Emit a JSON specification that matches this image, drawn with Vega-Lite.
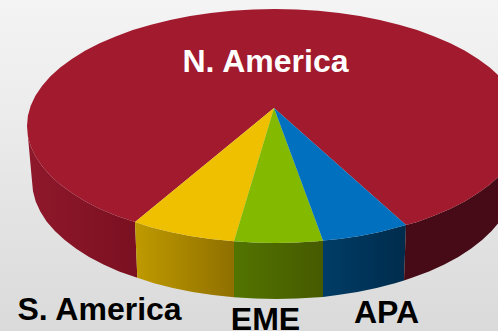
{
  "$schema": "https://vega.github.io/schema/vega-lite/v6.json",
  "autosize": {"type": "none"},
  "width": 498,
  "height": 331,
  "padding": 0,
  "background": "#ffffff",
  "config": {"view": {"stroke": null}},
  "datasets": {
    "backdrop": [{"x": 0, "x2": 498, "y": 0, "y2": 331}],
    "wallNorthAmericaLeft": [
      {"n":1,"x":27,"y":126},{"n":2,"x":27.9,"y":136.2},{"n":3,"x":30.7,"y":146.3},{"n":4,"x":35.4,"y":156.3},{"n":5,"x":42,"y":166},{"n":6,"x":50.2,"y":175.4},{"n":7,"x":60.2,"y":184.5},{"n":8,"x":71.9,"y":193.1},{"n":9,"x":85,"y":201.2},{"n":10,"x":99.6,"y":208.7},{"n":11,"x":115.6,"y":215.6},{"n":12,"x":135,"y":222},
      {"n":13,"x":137.3,"y":277.7},{"n":14,"x":119.1,"y":271.4},{"n":15,"x":103.5,"y":264.4},{"n":16,"x":89.1,"y":256.9},{"n":17,"x":76.2,"y":248.7},{"n":18,"x":64.7,"y":240},{"n":19,"x":54.9,"y":230.9},{"n":20,"x":46.6,"y":221.4},{"n":21,"x":40.3,"y":211.6},{"n":22,"x":35.7,"y":201.5},{"n":23,"x":33,"y":191.3},{"n":24,"x":32,"y":181}
    ],
    "wallSouthAmerica": [
      {"n":1,"x":135,"y":222},{"n":2,"x":151,"y":227.3},{"n":3,"x":170.2,"y":232},{"n":4,"x":190.2,"y":236},{"n":5,"x":210.8,"y":239},{"n":6,"x":234,"y":241.3},
      {"n":7,"x":234,"y":297.3},{"n":8,"x":212.8,"y":295},{"n":9,"x":192.6,"y":291.9},{"n":10,"x":172.8,"y":288},{"n":11,"x":154,"y":283.2},{"n":12,"x":137.3,"y":277.7}
    ],
    "wallEME": [
      {"n":1,"x":234,"y":241.3},{"n":2,"x":253.4,"y":242.6},{"n":3,"x":275,"y":243},{"n":4,"x":296.6,"y":242.6},{"n":5,"x":318,"y":241.2},{"n":6,"x":323,"y":240.5},
      {"n":7,"x":323,"y":297},{"n":8,"x":297,"y":298.5},{"n":9,"x":276,"y":299},{"n":10,"x":255,"y":298.5},{"n":11,"x":234,"y":297.3}
    ],
    "wallAPA": [
      {"n":1,"x":323,"y":240.5},{"n":2,"x":339.2,"y":239},{"n":3,"x":359.8,"y":236},{"n":4,"x":379.8,"y":232},{"n":5,"x":406,"y":225},
      {"n":6,"x":404,"y":280.5},{"n":7,"x":395,"y":283.2},{"n":8,"x":376.6,"y":288},{"n":9,"x":357.4,"y":291.9},{"n":10,"x":337.6,"y":295},{"n":11,"x":323,"y":297}
    ],
    "wallNorthAmericaRight": [
      {"n":1,"x":406,"y":225},{"n":2,"x":417.2,"y":221.9},{"n":3,"x":434.4,"y":215.6},{"n":4,"x":450.4,"y":208.7},{"n":5,"x":465,"y":201.2},{"n":6,"x":478.1,"y":193.1},{"n":7,"x":489.8,"y":184.5},{"n":8,"x":498,"y":177},
      {"n":9,"x":498,"y":223.5},{"n":10,"x":491.6,"y":230.9},{"n":11,"x":482.1,"y":240},{"n":12,"x":470.9,"y":248.7},{"n":13,"x":458.3,"y":256.9},{"n":14,"x":444.3,"y":264.4},{"n":15,"x":429,"y":271.4},{"n":16,"x":412.6,"y":277.6},{"n":17,"x":404,"y":280.5}
    ],
    "topNorthAmerica": [
      {"n":1,"x":274,"y":108},{"n":2,"x":406,"y":225},{"n":3,"x":417.2,"y":221.9},{"n":4,"x":434.4,"y":215.6},{"n":5,"x":450.4,"y":208.7},{"n":6,"x":465,"y":201.2},{"n":7,"x":478.1,"y":193.1},{"n":8,"x":489.8,"y":184.5},{"n":9,"x":498,"y":177},
      {"n":10,"x":498,"y":75},{"n":11,"x":489.8,"y":67.5},{"n":12,"x":478.1,"y":58.9},{"n":13,"x":465,"y":50.8},{"n":14,"x":450.4,"y":43.3},{"n":15,"x":434.4,"y":36.4},{"n":16,"x":417.2,"y":30.1},{"n":17,"x":399,"y":24.7},{"n":18,"x":379.8,"y":20},{"n":19,"x":359.8,"y":16},{"n":20,"x":339.2,"y":13},{"n":21,"x":318.1,"y":10.8},{"n":22,"x":296.6,"y":9.4},{"n":23,"x":275,"y":9},{"n":24,"x":253.4,"y":9.4},{"n":25,"x":231.9,"y":10.8},{"n":26,"x":210.8,"y":13},{"n":27,"x":190.2,"y":16},{"n":28,"x":170.2,"y":20},{"n":29,"x":151,"y":24.7},{"n":30,"x":132.8,"y":30.1},{"n":31,"x":115.6,"y":36.4},{"n":32,"x":99.6,"y":43.3},{"n":33,"x":85,"y":50.8},{"n":34,"x":71.9,"y":58.9},{"n":35,"x":60.2,"y":67.5},{"n":36,"x":50.2,"y":76.6},{"n":37,"x":42,"y":86},{"n":38,"x":35.4,"y":95.7},{"n":39,"x":30.7,"y":105.7},{"n":40,"x":27.9,"y":115.8},{"n":41,"x":27,"y":126},
      {"n":42,"x":27.9,"y":136.2},{"n":43,"x":30.7,"y":146.3},{"n":44,"x":35.4,"y":156.3},{"n":45,"x":42,"y":166},{"n":46,"x":50.2,"y":175.4},{"n":47,"x":60.2,"y":184.5},{"n":48,"x":71.9,"y":193.1},{"n":49,"x":85,"y":201.2},{"n":50,"x":99.6,"y":208.7},{"n":51,"x":115.6,"y":215.6},{"n":52,"x":135,"y":222}
    ],
    "topSouthAmerica": [
      {"n":1,"x":274,"y":108},{"n":2,"x":135,"y":222},{"n":3,"x":151,"y":227.3},{"n":4,"x":170.2,"y":232},{"n":5,"x":190.2,"y":236},{"n":6,"x":210.8,"y":239},{"n":7,"x":234,"y":241.3}
    ],
    "topEME": [
      {"n":1,"x":274,"y":108},{"n":2,"x":234,"y":241.3},{"n":3,"x":253.4,"y":242.6},{"n":4,"x":275,"y":243},{"n":5,"x":296.6,"y":242.6},{"n":6,"x":318,"y":241.2},{"n":7,"x":323,"y":240.5}
    ],
    "topAPA": [
      {"n":1,"x":274,"y":108},{"n":2,"x":323,"y":240.5},{"n":3,"x":339.2,"y":239},{"n":4,"x":359.8,"y":236},{"n":5,"x":379.8,"y":232},{"n":6,"x":406,"y":225}
    ],
    "labels": [
      {"label":"N. America","x":265.5,"y":72},
      {"label":"S. America","x":99.5,"y":319.5},
      {"label":"EME","x":265.5,"y":329.5},
      {"label":"APA","x":386.5,"y":323}
    ]
  },
  "encoding": {
    "x": {"field": "x", "type": "quantitative", "axis": null, "scale": {"domain": [0, 498], "nice": false, "zero": false}},
    "y": {"field": "y", "type": "quantitative", "axis": null, "scale": {"domain": [331, 0], "nice": false, "zero": false}}
  },
  "layer": [
    {
      "data": {"name": "backdrop"},
      "mark": {"type": "rect", "fill": {"gradient": "linear", "x1": 0, "y1": 0, "x2": 0, "y2": 1, "stops": [{"offset": 0, "color": "#f4f4f4"}, {"offset": 0.25, "color": "#eeeeee"}, {"offset": 1, "color": "#dadada"}]}},
      "encoding": {"x2": {"field": "x2"}, "y2": {"field": "y2"}}
    },
    {
      "data": {"name": "wallNorthAmericaLeft"},
      "mark": {"type": "line", "filled": true, "strokeWidth": 0, "fill": {"gradient": "linear", "x1": 0, "y1": 0, "x2": 1, "y2": 0, "stops": [{"offset": 0, "color": "#8f182b"}, {"offset": 1, "color": "#7a1021"}]}},
      "encoding": {"order": {"field": "n", "type": "quantitative"}}
    },
    {
      "data": {"name": "wallSouthAmerica"},
      "mark": {"type": "line", "filled": true, "strokeWidth": 0, "fill": {"gradient": "linear", "x1": 0, "y1": 0, "x2": 1, "y2": 0, "stops": [{"offset": 0, "color": "#bf9a00"}, {"offset": 1, "color": "#8f7000"}]}},
      "encoding": {"order": {"field": "n", "type": "quantitative"}}
    },
    {
      "data": {"name": "wallEME"},
      "mark": {"type": "line", "filled": true, "strokeWidth": 0, "fill": {"gradient": "linear", "x1": 0, "y1": 0, "x2": 1, "y2": 0, "stops": [{"offset": 0, "color": "#527400"}, {"offset": 1, "color": "#465a00"}]}},
      "encoding": {"order": {"field": "n", "type": "quantitative"}}
    },
    {
      "data": {"name": "wallAPA"},
      "mark": {"type": "line", "filled": true, "strokeWidth": 0, "fill": {"gradient": "linear", "x1": 0, "y1": 0, "x2": 1, "y2": 0, "stops": [{"offset": 0, "color": "#003c66"}, {"offset": 1, "color": "#002c4c"}]}},
      "encoding": {"order": {"field": "n", "type": "quantitative"}}
    },
    {
      "data": {"name": "wallNorthAmericaRight"},
      "mark": {"type": "line", "filled": true, "strokeWidth": 0, "fill": "#460b16"},
      "encoding": {"order": {"field": "n", "type": "quantitative"}}
    },
    {
      "data": {"name": "topNorthAmerica"},
      "mark": {"type": "line", "filled": true, "strokeWidth": 0, "fill": "#a11a2e"},
      "encoding": {"order": {"field": "n", "type": "quantitative"}}
    },
    {
      "data": {"name": "topSouthAmerica"},
      "mark": {"type": "line", "filled": true, "strokeWidth": 0, "fill": "#eec000"},
      "encoding": {"order": {"field": "n", "type": "quantitative"}}
    },
    {
      "data": {"name": "topEME"},
      "mark": {"type": "line", "filled": true, "strokeWidth": 0, "fill": "#83ba00"},
      "encoding": {"order": {"field": "n", "type": "quantitative"}}
    },
    {
      "data": {"name": "topAPA"},
      "mark": {"type": "line", "filled": true, "strokeWidth": 0, "fill": "#0070bf"},
      "encoding": {"order": {"field": "n", "type": "quantitative"}}
    },
    {
      "data": {"name": "labels"},
      "mark": {"type": "text", "font": "Liberation Sans", "fontWeight": "bold", "fontSize": 32, "align": "center", "baseline": "alphabetic"},
      "encoding": {
        "text": {"field": "label"},
        "color": {"condition": {"test": "datum.label === 'N. America'", "value": "#ffffff"}, "value": "#000000"}
      }
    }
  ]
}
